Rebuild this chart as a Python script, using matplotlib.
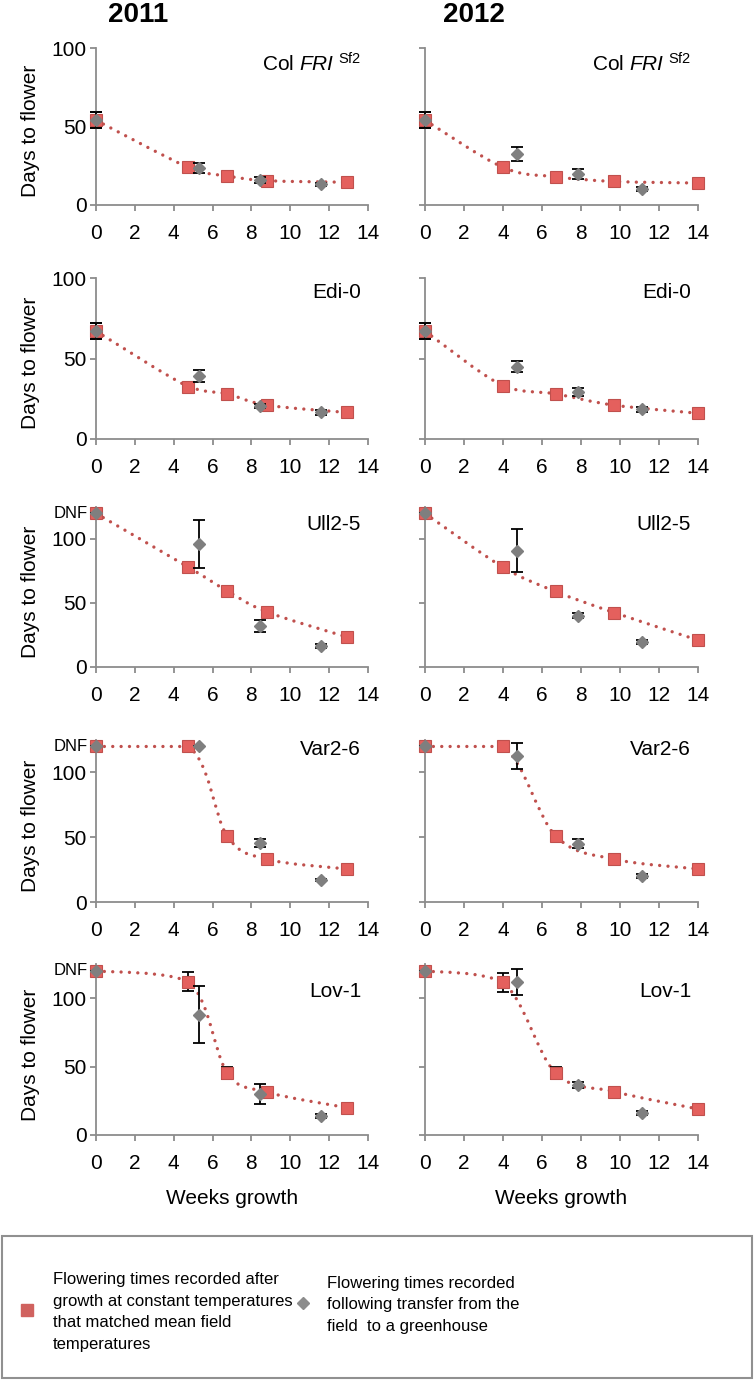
import matplotlib
matplotlib.use('Agg')
import matplotlib.pyplot as plt
import numpy as np
from matplotlib.path import Path
from matplotlib.patches import PathPatch, Rectangle
from matplotlib.lines import Line2D

plt.rcParams['font.family'] = ['Liberation Sans', 'DejaVu Sans']
plt.rcParams['mathtext.fontset'] = 'custom'
plt.rcParams['mathtext.rm'] = 'Liberation Sans'
plt.rcParams['mathtext.it'] = 'Liberation Sans:italic'

# accessions, one row of panels each
accessions = [r'Col $\mathit{FRI}^{\ \mathrm{Sf2}}$', 'Edi-0', 'Ull2-5', 'Var2-6', 'Lov-1']
years = ['2011', '2012']

# weeks of growth at which plants were sampled
weeks_const_2011 = [0, 4.75, 6.75, 8.8, 12.9]
weeks_field_2011 = [0, 5.3, 8.45, 11.6]
weeks_const_2012 = [0, 4.0, 6.7, 9.7, 14.0]
weeks_field_2012 = [0, 4.7, 7.85, 11.15]

# days to flower (DNF plotted at 120), rows follow accessions
const_2011 = [
    [54, 24, 18.5, 15.5, 14.5],
    [67, 32.5, 28, 21, 16.5],
    [120, 78, 59.5, 43, 23.5],
    [120, 120, 51, 33, 25.5],
    [120, 112, 45.6, 31.3, 20],
]
const_err_2011 = [
    [5, 2, 1.5, 1.5, 1],
    [5, 1.5, 1.5, 1.5, 1.5],
    [0, 2, 2, 2, 1.5],
    [0, 0, 2, 2, 1],
    [0, 7, 4.3, 2, 1],
]
field_2011 = [
    [54, 23.6, 16, 13.3],
    [67, 39, 20.5, 16.5],
    [120, 96, 32, 16.5],
    [120, 120, 45.6, 17],
    [120, 88, 30, 14],
]
field_err_2011 = [
    [5, 3, 2, 1],
    [5, 3.6, 1, 1.5],
    [0, 19, 5, 1.5],
    [0, 0, 3, 1],
    [0, 20.7, 7.4, 1.5],
]
const_2012 = [
    [54, 24, 18, 15, 14],
    [67, 33, 28, 21, 16],
    [120, 78, 59, 42.5, 21],
    [120, 120, 51, 33, 25.5],
    [120, 111.5, 45.3, 31.7, 19],
]
const_err_2012 = [
    [5, 1.5, 1.5, 1.5, 1],
    [5, 1.5, 1.5, 1.5, 1.5],
    [0, 2, 2, 2, 1.5],
    [0, 0, 2, 2, 1],
    [0, 6.8, 4.2, 1.5, 1.5],
]
field_2012 = [
    [54, 32.5, 19.7, 10.2],
    [67, 45, 29, 18.5],
    [120, 91, 40, 19.5],
    [120, 113, 45, 20],
    [120, 112, 36.7, 15.8],
]
field_err_2012 = [
    [5, 4.2, 3.2, 1],
    [5, 3.3, 2.6, 1.5],
    [0, 17, 2, 1.5],
    [0, 10, 3.5, 1.5],
    [0, 9.3, 2, 1.5],
]

RED_LINE = '#C0504D'
RED_FACE = '#E4605D'
GREY = '#7F7F7F'
AXIS = '#8C8C8C'


def smooth_path(x, y):
    '''Bezier path through the points, like a spreadsheet "smoothed line".'''
    x = np.asarray(x, float)
    y = np.asarray(y, float)
    n = len(x)
    verts = [(x[0], y[0])]
    codes = [Path.MOVETO]
    for i in range(n - 1):
        p0 = i - 1 if i > 0 else i
        p3 = i + 2 if i + 2 < n else i + 1
        c1 = [x[i] + (x[i + 1] - x[p0]) / 6, y[i] + (y[i + 1] - y[p0]) / 6]
        c2 = [x[i + 1] - (x[p3] - x[i]) / 6, y[i + 1] - (y[p3] - y[i]) / 6]
        lo, hi = min(y[i], y[i + 1]), max(y[i], y[i + 1])
        c1[1] = min(max(c1[1], lo), hi)
        c2[1] = min(max(c2[1], lo), hi)
        verts += [tuple(c1), tuple(c2), (x[i + 1], y[i + 1])]
        codes += [Path.CURVE4] * 3
    return Path(verts, codes)


W, H = 756, 1381
fig = plt.figure(figsize=(W / 100, H / 100), dpi=100)

rows_px = [(48, 205), (278, 439), (507, 667), (740, 902), (964, 1135)]
cols_px = [(96, 368), (425, 698)]
label_y = [0.90, 0.91, 0.89, 0.94, 0.84]

series = {
    '2011': (weeks_const_2011, const_2011, const_err_2011,
             weeks_field_2011, field_2011, field_err_2011),
    '2012': (weeks_const_2012, const_2012, const_err_2012,
             weeks_field_2012, field_2012, field_err_2012),
}

for r, name in enumerate(accessions):
    top, bot = rows_px[r]
    for c, year in enumerate(years):
        l, rr = cols_px[c]
        ax = fig.add_axes([l / W, 1 - bot / H, (rr - l) / W, (bot - top) / H])
        wc, vc, ec, wf, vf, ef = series[year]

        line = PathPatch(smooth_path(wc, vc[r]), fill=False, edgecolor=RED_LINE,
                         linewidth=2.4, zorder=1, clip_on=False)
        line.set_linestyle((0, (0.01, 2.5)))
        line.set_capstyle('round')
        ax.add_patch(line)

        ax.errorbar(wc, vc[r], yerr=ec[r], fmt='none', ecolor='black',
                    elinewidth=1.3, capsize=4.5, capthick=1.3, zorder=2, clip_on=False)
        ax.plot(wc, vc[r], 's', color=RED_FACE, markeredgecolor=RED_LINE,
                markeredgewidth=0.8, markersize=9, zorder=3, clip_on=False)
        ax.errorbar(wf, vf[r], yerr=ef[r], fmt='none', ecolor='black',
                    elinewidth=1.3, capsize=4.5, capthick=1.3, zorder=4, clip_on=False)
        ax.plot(wf, vf[r], 'D', color=GREY, markeredgecolor=GREY,
                markersize=6, zorder=5, clip_on=False)

        ax.set_xlim(0, 14)
        ax.set_ylim(0, 100 if r < 2 else 125)
        ax.set_xticks(range(0, 15, 2))
        ax.set_yticks([0, 50, 100])
        for s in ['top', 'right']:
            ax.spines[s].set_visible(False)
        for s in ['left', 'bottom']:
            ax.spines[s].set_color(AXIS)
            ax.spines[s].set_linewidth(1.3)
        ax.tick_params(axis='both', colors=AXIS, labelcolor='black', width=1.3,
                       labelsize=15)
        ax.tick_params(axis='x', length=4.5, pad=9)
        ax.tick_params(axis='y', length=4.5, pad=2)
        if c == 0:
            ax.set_ylabel('Days to flower', fontsize=15)
            ax.yaxis.set_label_coords(-0.205, 0.47)
            if r >= 2:
                ax.text(-0.03, 120, 'DNF', fontsize=12, ha='right', va='center',
                        transform=ax.get_yaxis_transform())
        else:
            ax.set_yticklabels([])
        if r == len(accessions) - 1:
            ax.set_xlabel('Weeks growth', fontsize=15, labelpad=12)
        ax.text(0.975, label_y[r], name, fontsize=15, ha='right', va='center',
                transform=ax.transAxes)

fig.text(138 / W, 1 - 15 / H, '2011', fontsize=20, fontweight='bold',
         ha='center', va='center')
fig.text(474 / W, 1 - 15 / H, '2012', fontsize=20, fontweight='bold',
         ha='center', va='center')

# legend box
fig.add_artist(Rectangle((2 / W, 1 - 1378 / H), 750 / W, 142 / H,
                         transform=fig.transFigure, fill=False,
                         edgecolor='#909090', linewidth=1.5))
fig.add_artist(Line2D([27 / W], [1 - 1310 / H], transform=fig.transFigure,
                      marker='s', markersize=8, color='#D0625F', linestyle='none'))
fig.add_artist(Line2D([303 / W], [1 - 1303 / H], transform=fig.transFigure,
                      marker='D', markersize=6, color='#8C8C8C', linestyle='none'))
fig.text(53 / W, 1 - 1312 / H,
         'Flowering times recorded after\ngrowth at constant temperatures\n'
         'that matched mean field\ntemperatures',
         fontsize=12, ha='left', va='center', linespacing=1.55)
fig.text(327 / W, 1 - 1305 / H,
         'Flowering times recorded\nfollowing transfer from the\nfield  to a greenhouse',
         fontsize=12, ha='left', va='center', linespacing=1.55)

fig.savefig('out.png', dpi=100)
